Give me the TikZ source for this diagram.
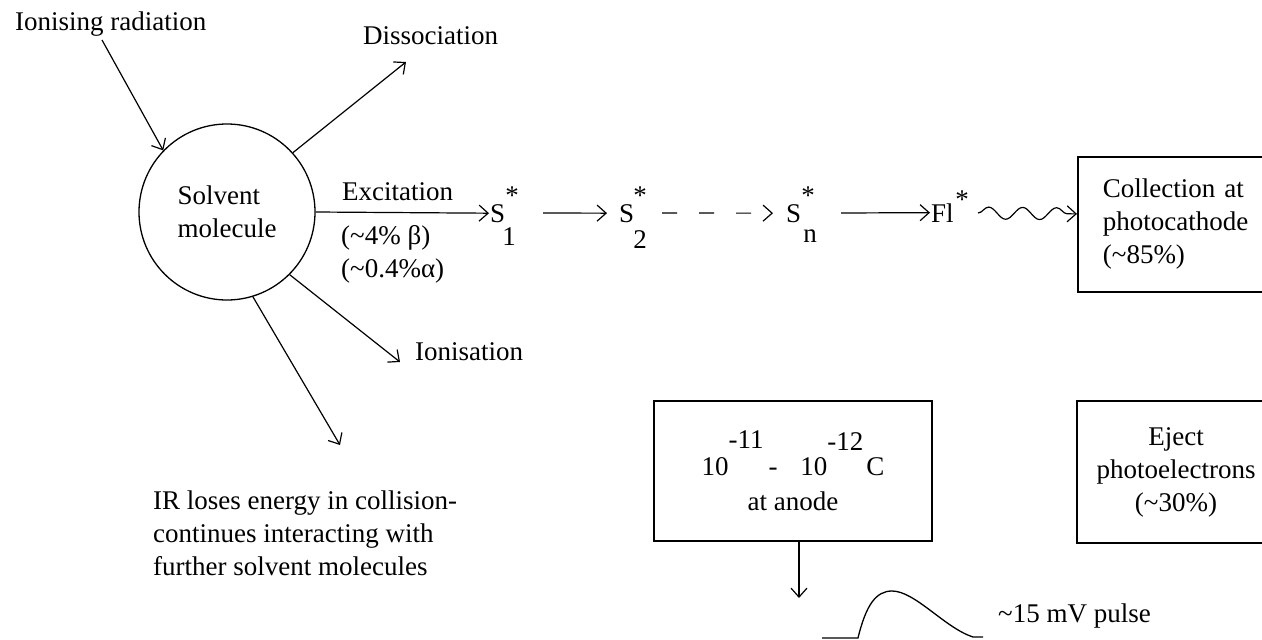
\documentclass[tikz,border=0pt]{standalone}
\usepackage{fontspec}
\setmainfont{Liberation Serif}
\usetikzlibrary{arrows.meta,decorations.pathmorphing}
\newcommand\myfnt{\fontsize{27}{33}\selectfont}
\begin{document}
\begin{tikzpicture}[x=1pt,y=-1pt,
  t/.style={inner sep=0pt, font=\myfnt},
  arr/.style={-{Straight Barb[length=9pt,width=16pt,line width=1.2pt]}, line width=1.2pt},
  box/.style={draw, line width=1.8pt, font=\myfnt, inner sep=0pt}]
\useasboundingbox (0,0) rectangle (1262,640);
\fill[white] (0,0) rectangle (1262,640);

% solvent molecule
\node[draw, circle, line width=1.3pt, minimum size=176pt, inner sep=0pt, font=\myfnt, align=left] (mol) at (227,212) {Solvent\\molecule};

\node[t, anchor=base west] (ionrad) at (15,30) {Ionising radiation};
\coordinate (ionstart) at (102,40);
\draw[arr] (ionstart) -- (mol.136);

\node[t, anchor=base west] (diss) at (363,44) {Dissociation};
\coordinate (dissend) at (406,62);
\draw[arr] (mol.42) -- (dissend);

\node[t, anchor=base west] (ion) at (415,360) {Ionisation};
\coordinate (ionend) at (400,362);
\draw[arr] (mol.-45) -- (ionend);

\coordinate (irend) at (340,445);
\draw[arr] (mol.-73) -- (irend);
\node[t, anchor=base west, align=left] (ir) at (153,575) {IR loses energy in collision-\\continues interacting with\\further solvent molecules};

% excitation chain
\node[t, anchor=base west] (s1) at (490,222) {S};
\draw[arr, shorten >=1pt] (mol.east) -- (s1.west);
\node[t, anchor=base west] (exc) at (342,200) {Excitation};
\node[t, anchor=base west, align=left] (pct) at (341,277) {(\textasciitilde4\% β)\\(\textasciitilde0.4\%α)};
\node[t, anchor=base] (s1sup) at (512,204) {*};
\node[t, anchor=base] (s1sub) at (509,245) {1};

\coordinate (a2s) at (543,213);
\node[t, anchor=base west] (s2) at (619,222) {S};
\draw[arr, shorten >=12pt] (a2s) -- (s2.west);
\node[t, anchor=base] (s2sup) at (640,204) {*};
\node[t, anchor=base] (s2sub) at (640,248) {2};

\coordinate (a3s) at (662,213);
\node[t, anchor=base west] (sn) at (786,222) {S};
\draw[arr, dash pattern=on 15pt off 22pt, shorten >=13pt] (a3s) -- (sn.west);
\node[t, anchor=base] (snsup) at (808,204) {*};
\node[t, anchor=base] (snsub) at (810,242) {n};

\coordinate (a4s) at (841,213);
\node[t, anchor=base west] (fl) at (931,222) {Fl};
\draw[arr, shorten >=1pt] (a4s) -- (fl.west);
\node[t, anchor=base] (flsup) at (962,208) {*};

% collection box
\node[box, anchor=north west, minimum width=240pt, minimum height=135pt, align=left, text width=190pt, inner xsep=25pt] (coll) at (1077,156) {Collection at\\photocathode\\(\textasciitilde85\%)};
\coordinate (wstart) at (978,213);
\draw[arr, decorate, decoration={snake, segment length=34pt, amplitude=6pt, post length=8pt}] (wstart) -- ([yshift=10.5pt]coll.west);

% eject box
\node[box, minimum width=198pt, minimum height=142pt, align=center] (eject) at (1176,472) {Eject\\photoelectrons\\(\textasciitilde30\%)};

% anode box
\node[box, minimum width=278pt, minimum height=140pt, align=center] (anode) at (793,471) {10\raisebox{27pt}{-11}\hspace{5pt}-\hspace{23pt}10\raisebox{25pt}{-12}\hspace{3pt}C\\[2pt]at anode};
\coordinate (dend) at (799,598);
\draw[arr] ([xshift=6pt]anode.south) -- (dend);

% pulse
\draw[line width=1.3pt] (822,638) -- (858,638) .. controls (866,605) and (876,591) .. (892,591) .. controls (915,591) and (945,628) .. (973,637) -- (983,637);
\node[t, anchor=base west] (pulse) at (998,622) {\textasciitilde15 mV pulse};
\end{tikzpicture}
\end{document}
